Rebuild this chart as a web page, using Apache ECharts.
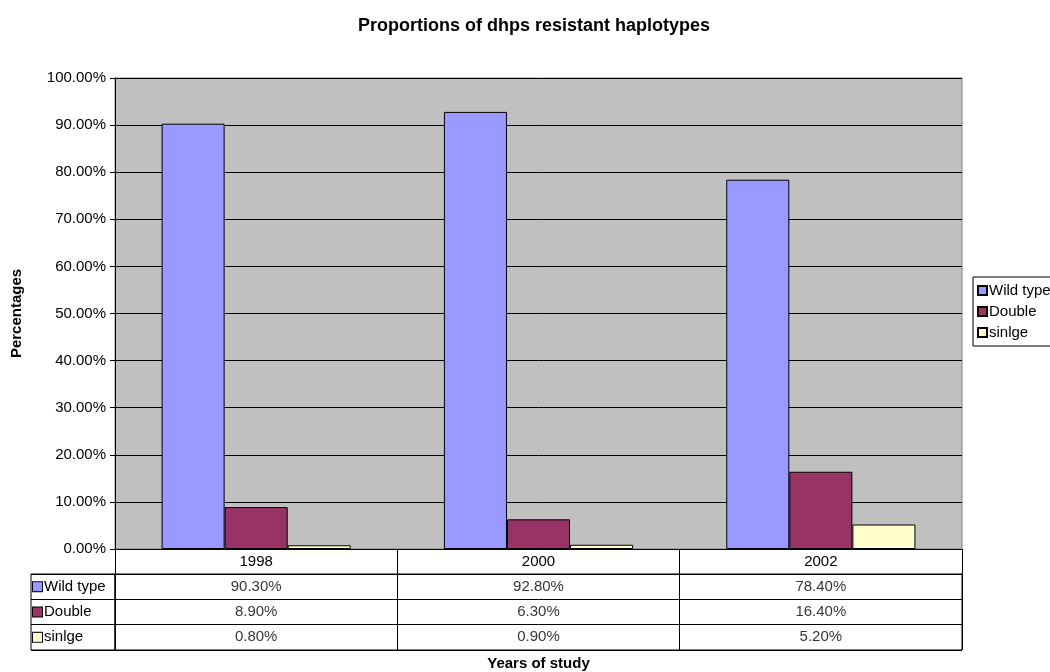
<!DOCTYPE html>
<html>
<head>
<meta charset="utf-8">
<script src="https://cdn.jsdelivr.net/npm/echarts@6/dist/echarts.min.js"></script>
<style>
  html, body { margin: 0; padding: 0; background: #fff; }
  #main { width: 1050px; height: 672px; }
</style>
</head>
<body>
<div id="main"></div>
<script>
var dom = document.getElementById("main");
var myChart = echarts.init(dom);

var years = ["1998", "2000", "2002"];
var seriesNames = ["Wild type", "Double", "sinlge"];
var wildType = [0.903, 0.928, 0.784];
var double = [0.089, 0.063, 0.164];
var single = [0.008, 0.009, 0.052];
var colors = ["#9999ff", "#993366", "#ffffcc"];

var allValues = [wildType, double, single];
var font = "Liberation Sans";

function pct(v) {
    return (v * 100).toFixed(2) + "%";
}

// cells of the data table: [year index, row index, value]
var tableCells = [];
for (var r = 0; r < allValues.length; r++) {
    for (var c = 0; c < years.length; c++) {
        tableCells.push([c, r, allValues[r][c]]);
    }
}

var barSeries = seriesNames.map(function (name, i) {
    return {
        name: name,
        type: "bar",
        xAxisIndex: 0,
        yAxisIndex: 0,
        data: allValues[i],
        barGap: "0%",
        barCategoryGap: "33%",
        itemStyle: {
            color: colors[i],
            borderColor: "#000",
            borderWidth: 1
        }
    };
});

var rich = {
    t: { fontFamily: font, fontSize: 15, color: "#000", padding: [0, 0, 0, 2] }
};
colors.forEach(function (col, i) {
    rich["b" + i] = { width: 9, height: 9, backgroundColor: col, borderColor: "#000", borderWidth: 1 };
});

var option = {
    backgroundColor: "#fff",
    animation: false,
    title: {
        text: "Proportions of dhps resistant haplotypes",
        left: 529,
        textAlign: "center",
        top: 12,
        textStyle: { fontFamily: font, fontSize: 18, fontWeight: "bold", color: "#000" }
    },
    legend: {
        data: seriesNames,
        orient: "vertical",
        left: 973,
        top: 277,
        padding: [6, 4, 6, 4],
        itemGap: 6,
        itemWidth: 9,
        itemHeight: 9,
        borderColor: "#000",
        borderWidth: 1,
        icon: "rect",
        textStyle: { fontFamily: font, fontSize: 15, color: "#000", padding: [0, 0, 0, -3] }
    },
    grid: [
        {   // plot area
            left: 115, right: 88, top: 78, bottom: 123,
            outerBoundsMode: "none",
            show: true,
            backgroundColor: "#c0c0c0",
            borderColor: "#808080",
            borderWidth: 1
        },
        {   // table values
            left: 115, right: 88, top: 574, height: 76,
            outerBoundsMode: "none",
            show: true,
            borderColor: "#000",
            borderWidth: 1
        },
        {   // table row headers
            left: 31, width: 84, top: 574, height: 76,
            outerBoundsMode: "none",
            show: true,
            borderColor: "#000",
            borderWidth: 1
        }
    ],
    xAxis: [
        {
            gridIndex: 0,
            type: "category",
            data: years,
            name: "Years of study",
            nameLocation: "middle",
            nameGap: 107,
            nameTextStyle: { fontFamily: font, fontSize: 15, fontWeight: "bold", color: "#000" },
            axisLine: { lineStyle: { color: "#000", width: 1 } },
            axisTick: { show: true, length: 25, lineStyle: { color: "#000" } },
            axisLabel: { fontFamily: font, fontSize: 15, color: "#000", margin: 5 },
            splitLine: { show: false }
        },
        {
            gridIndex: 1,
            type: "category",
            data: years,
            axisLine: { show: false },
            axisTick: { show: false },
            axisLabel: { show: false },
            splitLine: { show: true, lineStyle: { color: "#000", width: 1 } }
        },
        {
            gridIndex: 2,
            type: "value",
            show: false
        }
    ],
    yAxis: [
        {
            gridIndex: 0,
            type: "value",
            min: 0,
            max: 1,
            interval: 0.1,
            name: "Percentages",
            nameLocation: "middle",
            nameGap: 91,
            nameTextStyle: { fontFamily: font, fontSize: 15, fontWeight: "bold", color: "#000" },
            axisLine: { show: true, lineStyle: { color: "#000", width: 1 } },
            axisTick: { show: true, length: 5, lineStyle: { color: "#000" } },
            axisLabel: {
                fontFamily: font, fontSize: 15, color: "#000", margin: 9,
                formatter: pct
            },
            splitLine: { show: true, lineStyle: { color: "#000", width: 1 } }
        },
        {
            gridIndex: 1,
            type: "category",
            data: seriesNames,
            inverse: true,
            axisLine: { show: false },
            axisTick: { show: false },
            axisLabel: { show: false },
            splitLine: { show: true, lineStyle: { color: "#000", width: 1 } }
        },
        {
            gridIndex: 2,
            type: "category",
            data: seriesNames,
            inverse: true,
            axisLine: { show: false },
            axisTick: { show: false },
            axisLabel: {
                inside: true,
                margin: 2,
                align: "left",
                formatter: function (v, i) {
                    return "{b" + i + "|}{t|" + v + "}";
                },
                rich: rich
            },
            splitLine: { show: true, lineStyle: { color: "#000", width: 1 } }
        }
    ],
    series: barSeries.concat([
        {
            name: "table",
            type: "scatter",
            xAxisIndex: 1,
            yAxisIndex: 1,
            data: tableCells,
            symbolSize: 1,
            itemStyle: { color: "rgba(0,0,0,0)" },
            label: {
                show: true,
                position: "inside",
                fontFamily: font,
                fontSize: 15,
                color: "#000",
                formatter: function (p) { return pct(p.value[2]); }
            },
            silent: true
        }
    ])
};
myChart.setOption(option);
</script>
</body>
</html>
